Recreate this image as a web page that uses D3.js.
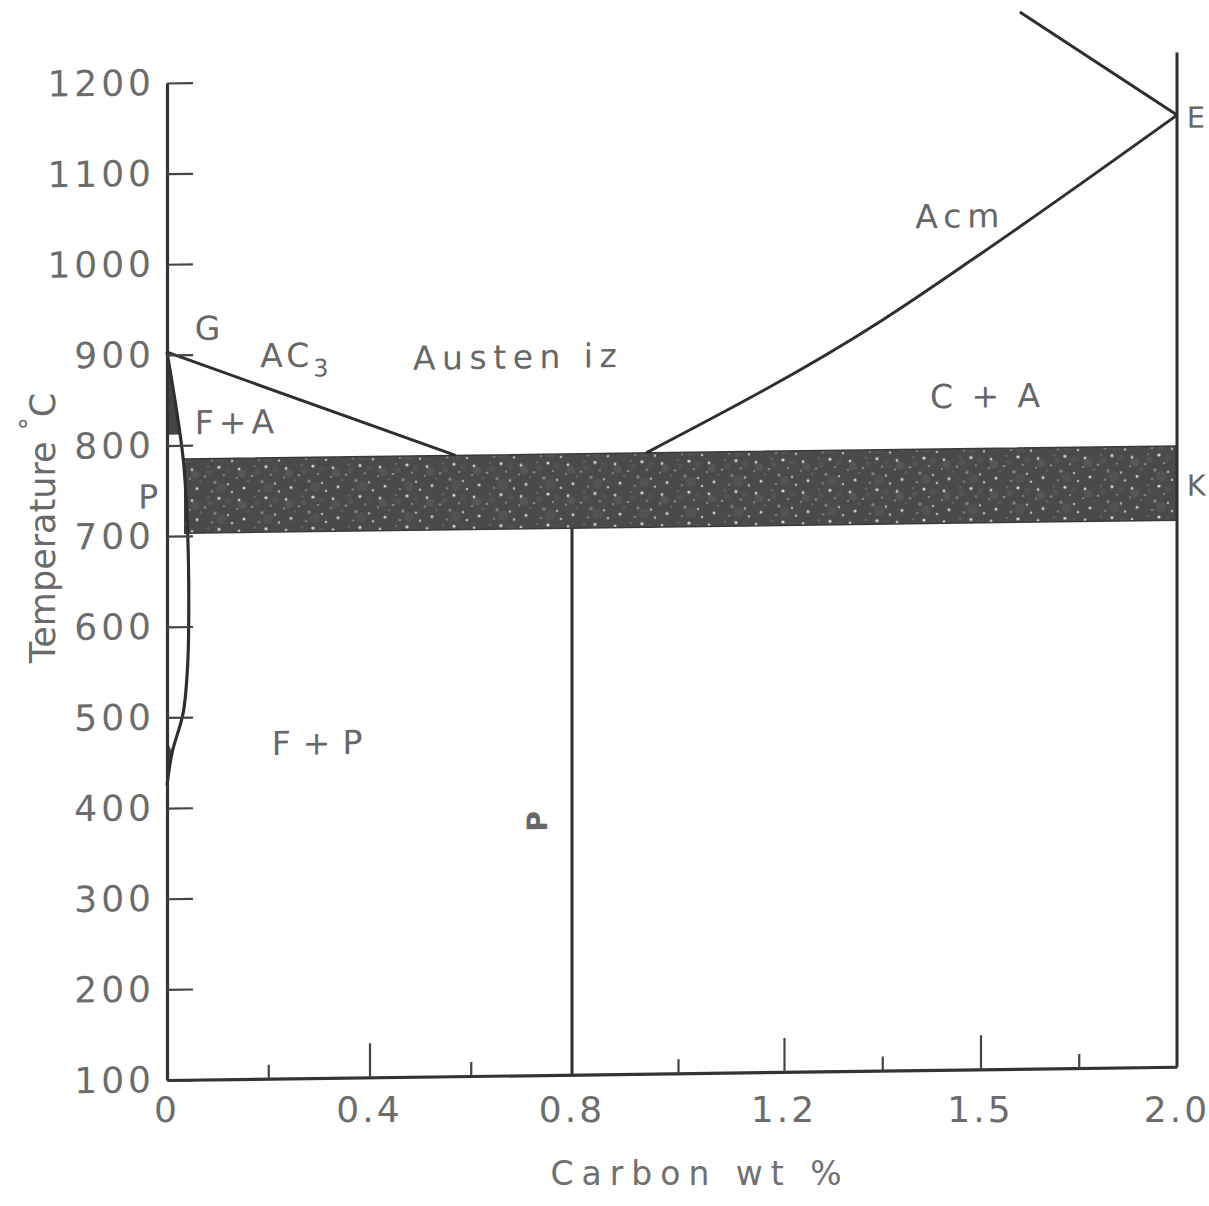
<!DOCTYPE html>
<html><head><meta charset="utf-8">
<script src="https://cdn.jsdelivr.net/npm/d3@7"></script>
<style>body{margin:0;background:#fff}svg{display:block}</style>
</head><body>
<script>
const W = 1209, H = 1206;

// ---- axis data ----
const yTicks = [100, 200, 300, 400, 500, 600, 700, 800, 900, 1000, 1100, 1200];
const xMajorTicks = [0.4, 1.2, 1.6];
const xMinorTicks = [0.2, 0.6, 1.0, 1.4, 1.8];
const xLabelPos = [0, 0.4, 0.8, 1.2, 1.6, 2.0];
const xLabelText = ["0", "0.4", "0.8", "1.2", "1.5", "2.0"];

// ---- phase boundaries: [carbon wt %, temperature °C] ----
const lineA3 = [[0, 903], [0.57, 785]];
const lineAcm = [[0.94, 785], [1.40, 928], [1.59, 996], [2.0, 1150]];
const lineAboveE = [[1.68, 1266], [2.0, 1150]];
const lineRight = [[2.0, 1219], [2.0, 100]];
const lineEutectoid = [[0.8, 703], [0.8, 100]];
const ferriteSolvus = [[0, 903], [0.032, 785], [0.041, 700], [0.043, 620], [0.041, 560], [0.032, 505], [0.01, 461], [0, 425]];
const ferriteWedge = [[0, 903], [0.027, 812], [0, 812]];
const ferriteFoot = [[0, 475], [0.01, 461], [0.004, 440], [0, 410]];
const bandCarbon = [0.035, 2.0];
const bandTop = [785, 785];
const bandBottom = [703, 703];

// ---- region labels ----
const labelText = ["G", "AC", "Austen iz", "F+A", "P", "F+P", "Acm", "C + A", "E", "K"];
const labelC = [0.055, 0.184, 0.486, 0.055, -0.057, 0.207, 1.467, 1.497, 2.02, 2.02];
const labelT = [916, 885, 880, 812, 731, 457, 1029, 830, 1136, 730];
const labelSpacing = [2, 4, 6.5, 5, 0, 12, 6, 4, 0, 0];

const svg = d3.select("body").append("svg").attr("width", W).attr("height", H);
svg.append("rect").attr("width", W).attr("height", H).attr("fill", "#fff");

const x = d3.scaleLinear().domain([0, 0.8, 1.2, 2.0]).range([167, 572, 784, 1177]);
const y = d3.scaleLinear().domain([100, 1200]).range([1080, 83]);

// speckle pattern for the eutectoid band
const defs = svg.append("defs");
const pat = defs.append("pattern").attr("id", "spk").attr("patternUnits", "userSpaceOnUse")
  .attr("width", 47).attr("height", 31);
pat.append("rect").attr("width", 47).attr("height", 31).attr("fill", "#4a4a4a");
const blot = [[7,10,4,0.25],[33,24,5,0.2],[22,8,3,0.18],[40,6,3,0.15]];
blot.forEach(d => pat.append("circle").attr("cx", d[0]).attr("cy", d[1]).attr("r", d[2])
  .attr("fill", "#7a7a7a").attr("opacity", d[3]));
const dots = [[4,5,1.4,0.8],[17,12,1.1,0.6],[31,3,1.6,0.9],[40,20,1.2,0.7],[9,24,1.5,0.85],[24,27,1.0,0.5],[36,11,0.9,0.55],[13,17,0.8,0.4],[44,28,1.3,0.7],[27,18,1.7,0.35],[2,14,0.9,0.5],[20,2,0.8,0.45]];
dots.forEach(d => pat.append("circle").attr("cx", d[0]).attr("cy", d[1]).attr("r", d[2])
  .attr("fill", "#e8e8e8").attr("opacity", d[3]));

const g = svg.append("g").attr("transform", "translate(167,0) skewY(-0.75) translate(-167,0)");

// band
const band = bandCarbon.map((c, i) => ({c, t: bandTop[i], b: bandBottom[i]}));
g.append("path").datum(band)
  .attr("d", d3.area().x(d => x(d.c)).y0(d => y(d.b)).y1(d => y(d.t)))
  .attr("fill", "url(#spk)").attr("stroke", "#3a3a3a").attr("stroke-width", 1.5);

const ln = d3.line().x(d => x(d[0])).y(d => y(d[1]));
// ferrite wedges
[ferriteWedge, ferriteFoot].forEach(P =>
  g.append("path").attr("d", ln(P) + "Z").attr("fill", "#444"));

const strokeCol = "#2f2f2f";
[lineA3, lineAboveE, lineRight, lineEutectoid].forEach(L =>
  g.append("path").attr("d", ln(L)).attr("fill", "none").attr("stroke", strokeCol).attr("stroke-width", 3));
g.append("path").attr("d", d3.line().x(d => x(d[0])).y(d => y(d[1])).curve(d3.curveMonotoneX)(lineAcm))
  .attr("fill", "none").attr("stroke", strokeCol).attr("stroke-width", 3);
g.append("path").attr("d", d3.line().x(d => x(d[0])).y(d => y(d[1])).curve(d3.curveCatmullRom)(ferriteSolvus))
  .attr("fill", "none").attr("stroke", strokeCol).attr("stroke-width", 3.2);

// y axis
const yAxis = g.append("g").attr("transform", `translate(${x(0)},0)`)
  .call(d3.axisLeft(y).tickValues(yTicks).tickFormat(d3.format("d"))
    .tickSize(-26).tickSizeOuter(0).tickPadding(12));
yAxis.select(".domain").attr("stroke", "#333").attr("stroke-width", 3.2);
yAxis.selectAll(".tick line").attr("stroke", "#444").attr("stroke-width", 2.2);
yAxis.selectAll(".tick text").attr("font-family", "DejaVu Sans").attr("font-size", 36)
  .attr("letter-spacing", 4).attr("fill", "#6c6c6c");

// x axis (ticks only)
const xAxisG = g.append("g").attr("transform", `translate(0,${y(100)})`);
const xa1 = xAxisG.append("g").call(d3.axisBottom(x).tickValues(xMajorTicks).tickSize(-34).tickSizeOuter(0).tickFormat(""));
const xa2 = xAxisG.append("g").call(d3.axisBottom(x).tickValues(xMinorTicks).tickSize(-14).tickSizeOuter(0).tickFormat(""));
xa1.select(".domain").attr("stroke", "#333").attr("stroke-width", 3.2);
xa2.select(".domain").remove();
xAxisG.selectAll(".tick line").attr("stroke", "#444").attr("stroke-width", 2.2);

// x tick labels (not skewed)
svg.append("g").selectAll("text").data(xLabelPos).join("text")
  .attr("x", d => x(d)).attr("y", 1122).attr("text-anchor", "middle")
  .attr("font-family", "DejaVu Sans").attr("font-size", 36).attr("letter-spacing", 3)
  .attr("fill", "#6c6c6c").text((d, i) => xLabelText[i]);

// axis titles
svg.append("text").attr("x", 700).attr("y", 1185).attr("text-anchor", "middle")
  .attr("font-family", "DejaVu Sans").attr("font-size", 33).attr("letter-spacing", 8)
  .attr("fill", "#707070").text("Carbon wt %");

const yt = svg.append("text").attr("transform", "translate(55,528) rotate(-90)")
  .attr("text-anchor", "middle").attr("font-family", "DejaVu Sans").attr("font-size", 35)
  .attr("fill", "#6a6a6a");
yt.append("tspan").text("Temperature ");
yt.append("tspan").attr("dy", -16).attr("font-size", 26).text("°");
yt.append("tspan").attr("dy", 16).text("C");

// region labels
const lab = g.append("g").attr("font-family", "DejaVu Sans").attr("fill", "#676767");
labelText.forEach((t, i) => {
  const edge = labelC[i] > 2;
  const tx = lab.append("text").attr("x", x(labelC[i])).attr("y", y(labelT[i]))
    .attr("font-size", edge ? 29 : 33).attr("letter-spacing", labelSpacing[i]).text(t);
  if (t === "AC") tx.append("tspan").attr("dy", 10).attr("font-size", 24).text("3");
});
// pearlite "P" label beside the 0.8 % line (rotated as in the figure)
lab.append("text").attr("transform", `translate(${x(0.731)},${y(380)}) rotate(-90)`)
  .attr("text-anchor", "middle").attr("dominant-baseline", "central")
  .attr("font-size", 28).attr("font-weight", "bold").text("P");
</script>
</body></html>
